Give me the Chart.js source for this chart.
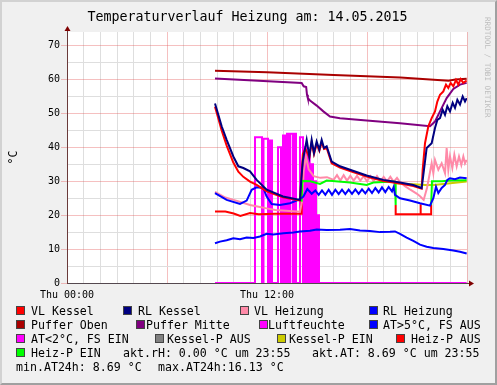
<!DOCTYPE html>
<html>
<head>
<meta charset="utf-8">
<script src="https://cdn.jsdelivr.net/npm/chart.js@4.4.1/dist/chart.umd.min.js"></script>
<style>
  body { margin: 0; background: #f0f0f0; }
  #wrap { position: relative; width: 497px; height: 385px; background: #f0f0f0; font-family: "DejaVu Sans Mono", monospace; overflow: hidden; }
  #chart { position: absolute; left: 0; top: 0; }
  #frame { position: absolute; left: 0; top: 0; width: 497px; height: 385px; box-sizing: border-box;
    border-top: 2px solid #d2d2d2; border-left: 2px solid #d2d2d2; border-right: 2px solid #a0a0a0; border-bottom: 2px solid #a0a0a0; pointer-events: none; }
  #title { position: absolute; left: -1px; top: 9px; width: 497px; text-align: center; font-size: 13.3px; line-height: 16px; color: #000; white-space: pre; }
  #mark { position: absolute; left: 483px; top: 17px; writing-mode: vertical-rl; font-size: 7.6px; line-height: 8px; color: #bdbdbd; white-space: pre; }
  .lg { position: absolute; font-size: 11.6px; line-height: 14px; color: #000; white-space: pre; }
  .box { position: absolute; width: 7px; height: 7px; border: 1px solid #444; }
</style>
</head>
<body>
<div id="wrap">
  <canvas id="chart" width="497" height="385"></canvas>
  <div id="title">Temperaturverlauf Heizung am: 14.05.2015</div>
  <div id="mark">RRDTOOL / TOBI OETIKER</div>
  <div id="legend"></div>
  <div id="frame"></div>
</div>
<script>
// values: [hour of day, value]
const vlKessel = [[8.88,52.0],[9.08,48.5],[9.28,45.0],[9.58,40.5],[9.98,35.5],[10.28,32.8],[10.58,31.3],[10.98,29.9],[11.38,28.9],[11.98,27.0],[12.96,25.3],[13.98,24.3],[14.05,30.0],[14.15,38.0],[14.3,39.5],[14.38,38.8],[14.54,37.0],[14.68,41.5],[14.82,38.0],[14.98,41.0],[15.14,39.0],[15.28,41.5],[15.42,39.5],[15.58,39.8],[15.88,35.3],[16.38,34.0],[16.98,33.0],[17.98,31.4],[18.98,30.1],[19.98,29.3],[20.78,28.6],[21.28,27.8],[21.34,33.4],[21.48,41.2],[21.68,46.2],[21.88,48.6],[22.08,50.6],[22.22,53.5],[22.38,55.5],[22.58,56.5],[22.74,58.5],[22.88,57.5],[23.02,59.0],[23.18,58.0],[23.34,59.9],[23.48,58.5],[23.62,60.1],[23.78,59.0],[23.98,59.7]];
const rlKessel = [[8.88,52.9],[9.08,49.6],[9.28,46.2],[9.58,42.2],[9.98,37.3],[10.28,34.4],[10.58,33.9],[10.98,32.9],[11.38,30.4],[11.98,27.5],[12.96,25.5],[13.98,24.5],[14.05,30.0],[14.15,36.0],[14.38,42.2],[14.54,37.3],[14.68,42.2],[14.82,38.3],[14.98,41.7],[15.14,39.3],[15.28,42.2],[15.42,39.8],[15.58,40.3],[15.88,35.8],[16.38,34.4],[16.98,33.4],[17.98,31.7],[18.98,30.4],[19.98,29.6],[20.78,28.9],[21.28,28.0],[21.42,33.4],[21.58,39.8],[21.88,41.2],[22.08,45.7],[22.22,48.1],[22.38,48.6],[22.54,51.1],[22.68,49.6],[22.82,52.1],[22.98,50.6],[23.14,53.1],[23.28,51.6],[23.42,54.0],[23.58,52.6],[23.74,55.0],[23.88,53.5],[23.98,54.5]];
const vlHeizung = [[8.88,26.9],[9.5,25.2],[10.0,24.5],[10.98,23.0],[11.5,22.5],[11.98,22.0],[12.5,21.5],[13.98,21.0],[14.1,24.0],[14.2,33.0],[14.34,37.3],[14.5,33.5],[14.8,31.5],[15.2,31.0],[15.6,31.2],[16.0,30.4],[16.2,31.8],[16.4,30.2],[16.6,31.8],[16.8,30.2],[17.0,31.6],[17.2,30.2],[17.4,31.6],[17.6,30.2],[17.8,31.5],[18.0,30.0],[18.2,31.5],[18.4,30.0],[18.6,31.5],[18.8,30.0],[19.0,31.3],[19.2,30.0],[19.4,31.3],[19.6,29.8],[19.8,31.0],[20.0,29.6],[20.3,28.5],[20.6,27.5],[21.0,26.3],[21.2,25.5],[21.4,24.5],[21.6,28.0],[21.88,35.3],[21.98,32.4],[22.08,36.3],[22.28,33.4],[22.48,35.3],[22.68,32.4],[22.78,39.8],[22.88,33.4],[22.98,37.3],[23.12,33.9],[23.24,37.8],[23.38,34.4],[23.52,37.3],[23.66,34.8],[23.78,37.3],[23.88,35.3],[23.98,36.3]];
const rlHeizung = [[8.88,26.5],[9.58,24.5],[10.38,23.3],[10.78,24.3],[11.08,27.5],[11.38,28.2],[11.78,28.0],[11.98,25.5],[12.28,23.3],[12.78,23.0],[13.38,23.5],[13.98,24.7],[14.18,25.5],[14.42,27.7],[14.68,26.3],[14.9,27.3],[15.1,26.0],[15.3,27.3],[15.5,26.0],[15.7,27.5],[15.9,26.0],[16.1,27.5],[16.3,26.2],[16.5,27.5],[16.7,26.2],[16.9,27.5],[17.1,26.3],[17.3,27.6],[17.5,26.3],[17.7,27.6],[17.9,26.4],[18.1,27.8],[18.3,26.5],[18.5,28.0],[18.7,26.7],[18.9,28.2],[19.1,26.8],[19.3,28.3],[19.5,27.0],[19.6,28.3],[19.68,26.0],[19.98,25.0],[20.58,24.3],[21.18,23.5],[21.78,22.8],[21.98,25.0],[22.14,28.4],[22.28,26.5],[22.48,28.0],[22.68,28.9],[22.82,30.4],[22.98,30.9],[23.28,30.6],[23.58,31.1],[23.98,30.9]];
const pufferOben = [[8.88,62.6],[12.0,62.1],[16.0,61.3],[20.0,60.6],[22.9,59.6],[23.3,60.0],[23.98,60.2]];
const pufferMitte = [[8.88,60.3],[14.08,59.0],[14.2,58.0],[14.35,57.8],[14.4,55.5],[14.45,54.5],[14.58,53.8],[14.98,52.3],[15.38,50.6],[15.78,49.1],[16.38,48.6],[17.98,47.9],[19.98,47.1],[21.78,46.2],[22.08,47.6],[22.38,50.6],[22.78,54.5],[23.18,57.2],[23.58,58.5],[23.98,59.0]];
const luftfeuchte = [[8.88,0],[11.28,0],[11.28,43],[11.7,43],[11.7,0],[11.79,0],[11.79,42.5],[12.06,42.5],[12.06,0],[12.18,0],[12.18,42],[12.3,42],[12.3,0],[12.66,0],[12.66,40],[12.84,40],[12.84,0],[12.96,0],[12.96,43.5],[13.08,43.5],[13.08,0],[13.2,0],[13.2,44],[13.32,44],[13.32,0],[13.4,0],[13.4,44],[13.56,44],[13.56,0],[13.62,0],[13.62,44],[13.74,44],[13.74,0],[13.98,0],[13.98,43],[14.16,43],[14.16,0],[14.28,0],[14.28,40],[14.36,40],[14.36,0],[14.48,0],[14.48,37.8],[14.56,37.8],[14.56,0],[14.68,0],[14.68,35],[14.76,35],[14.76,0],[14.86,0],[14.86,30],[14.94,30],[14.94,0],[15.04,0],[15.04,20],[15.12,20],[15.12,0],[23.98,0]];
const atUeber5 = [[8.88,11.7],[9.18,12.2],[9.58,12.6],[9.98,13.2],[10.38,12.9],[10.78,13.4],[11.18,13.3],[11.58,13.7],[11.98,14.5],[12.38,14.3],[12.98,14.7],[13.58,14.9],[13.98,15.2],[14.58,15.4],[14.98,15.8],[15.58,15.6],[16.38,15.7],[16.98,15.9],[17.58,15.5],[18.18,15.3],[18.78,15.0],[19.38,15.1],[19.68,15.2],[19.98,14.5],[20.38,13.4],[20.78,12.4],[21.18,11.3],[21.58,10.7],[21.98,10.3],[22.58,10.0],[23.18,9.6],[23.58,9.2],[23.98,8.7]];
const atUnter2 = [];
const kesselPAus = [];
const kesselPEin = [[19.6,29.4],[20.5,29.2],[21.5,28.9],[22.0,28.9],[23.0,29.4],[23.98,29.9]];
const heizPAus = [[8.88,21.1],[9.5,21.1],[10.0,20.5],[10.4,19.8],[10.98,20.6],[11.5,20.3],[12.5,20.4],[14.08,20.4],[14.08,24.0],[14.1,null],[19.72,23.0],[19.72,20.3],[21.18,20.3],[21.18,23.2],[21.24,23.2],[21.24,20.3],[21.85,20.3],[21.85,23.0]];
const heizPEin = [[14.08,24.0],[14.12,30.1],[14.6,30.0],[15.18,29.2],[15.58,30.2],[16.98,29.6],[17.98,28.9],[18.38,29.6],[19.58,29.9],[19.68,29.8],[19.72,23.0],[19.8,null],[21.85,23.0],[21.9,30.0],[22.5,30.0],[23.0,30.2],[23.98,30.3]];

const seriesNames = ["VL Kessel", "RL Kessel", "VL Heizung", "RL Heizung", "Puffer Oben", "Puffer Mitte", "Luftfeuchte", "AT>5°C, FS AUS", "AT<2°C, FS EIN", "Kessel-P AUS", "Kessel-P EIN", "Heiz-P AUS", "Heiz-P EIN"];
const seriesData = [vlKessel, rlKessel, vlHeizung, rlHeizung, pufferOben, pufferMitte, luftfeuchte, atUeber5, atUnter2, kesselPAus, kesselPEin, heizPAus, heizPEin];
const gprintTexts = ["akt.rH: 0.00 °C um 23:55", "akt.AT: 8.69 °C um 23:55", "min.AT24h: 8.69 °C", "max.AT24h:16.13 °C"];
const xTickHours = [0, 12];
const xTickLabels = ["Thu 00:00", "Thu 12:00"];
const yTickLabels = ["0", "10", "20", "30", "40", "50", "60", "70"];

// styles
const seriesColors = ["#ff0000", "#000080", "#ff8aa8", "#0000ff", "#aa0000", "#800080", "#ff00ff", "#0000ff", "#ff00ff", "#808080", "#cccc00", "#ff0000", "#00ff00"];
const drawOrder = [1, 0, 3, 2, 5, 4, 12, 6, 7, 11, 10, 9, 2.5]; // lower = on top
const boxX  = [16, 123, 240, 369, 16, 136, 259, 369, 16, 155, 277, 396, 16];
const textX = [31, 138, 254, 383, 31, 146, 268, 383, 31, 167, 289, 411, 31];
const rowOf = [0, 0, 0, 0, 1, 1, 1, 1, 2, 2, 2, 2, 3];
const gprintPos = [[123, 3], [312, 3], [16, 4], [158, 4]];
const rowTop = 304, rowStep = 14;

const majorGrid = "rgba(230,90,90,0.38)";
const minorGrid = "#dedede";
const axisColor = "#6a3a3a";
const arrowColor = "#7f0000";
const mono = "DejaVu Sans Mono";

// legend as html
const legend = document.getElementById("legend");
seriesNames.forEach((name, i) => {
  const top = rowTop + rowOf[i] * rowStep;
  const b = document.createElement("div");
  b.className = "box";
  b.style.left = boxX[i] + "px";
  b.style.top = (top + 2) + "px";
  b.style.background = seriesColors[i];
  legend.appendChild(b);
  const t = document.createElement("div");
  t.className = "lg";
  t.style.left = textX[i] + "px";
  t.style.top = top + "px";
  t.textContent = name;
  legend.appendChild(t);
});
gprintTexts.forEach((txt, i) => {
  const t = document.createElement("div");
  t.className = "lg";
  t.style.left = gprintPos[i][0] + "px";
  t.style.top = (rowTop + gprintPos[i][1] * rowStep) + "px";
  t.textContent = txt;
  legend.appendChild(t);
});

const frame = {
  id: "frame",
  beforeDraw(chart) {
    const { ctx, chartArea: a } = chart;
    ctx.save();
    ctx.fillStyle = "#ffffff";
    ctx.fillRect(a.left, a.top, a.right - a.left, a.bottom - a.top);
    ctx.restore();
  },
  afterDraw(chart) {
    const { ctx, chartArea: a } = chart;
    ctx.save();
    ctx.strokeStyle = axisColor;
    ctx.lineWidth = 1;
    ctx.beginPath();
    ctx.moveTo(a.left + 0.5, a.top);
    ctx.lineTo(a.left + 0.5, a.top - 3);
    ctx.moveTo(a.right, a.bottom + 0.5);
    ctx.lineTo(a.right + 3, a.bottom + 0.5);
    ctx.stroke();
    ctx.fillStyle = arrowColor;
    ctx.beginPath();
    ctx.moveTo(a.left + 0.5, a.top - 6);
    ctx.lineTo(a.left - 2.5, a.top - 1);
    ctx.lineTo(a.left + 3.5, a.top - 1);
    ctx.closePath();
    ctx.fill();
    ctx.beginPath();
    ctx.moveTo(a.right + 7, a.bottom + 0.5);
    ctx.lineTo(a.right + 2, a.bottom - 2.5);
    ctx.lineTo(a.right + 2, a.bottom + 3.5);
    ctx.closePath();
    ctx.fill();
    ctx.restore();
  }
};

new Chart(document.getElementById("chart"), {
  type: "line",
  data: {
    datasets: seriesNames.map((name, i) => ({
      label: name,
      data: seriesData[i],
      borderColor: seriesColors[i],
      backgroundColor: seriesColors[i],
      borderWidth: 2,
      pointRadius: 0,
      tension: 0,
      fill: false,
      spanGaps: false,
      order: drawOrder[i]
    }))
  },
  options: {
    responsive: false,
    devicePixelRatio: 1,
    animation: false,
    events: [],
    layout: { padding: { left: 0, right: 30, top: 32, bottom: 82 } },
    plugins: { legend: { display: false }, title: { display: false }, tooltip: { enabled: false } },
    scales: {
      x: {
        type: "linear",
        min: 0,
        max: 24,
        afterFit: s => { s.height = 20; },
        ticks: {
          stepSize: 1,
          includeBounds: false,
          autoSkip: false,
          maxRotation: 0,
          padding: 3,
          color: "#000",
          font: { family: mono, size: 10 },
          callback: v => {
            const k = xTickHours.indexOf(v);
            return k >= 0 ? xTickLabels[k] : "";
          }
        },
        grid: {
          color: c => (c.tick && c.tick.value % 6 === 0) ? majorGrid : minorGrid,
          tickLength: 3,
          tickColor: "transparent"
        },
        border: { color: "#54484f", width: 1 }
      },
      y: {
        type: "linear",
        min: 0,
        max: 74,
        afterFit: s => { s.width = 67; },
        ticks: {
          stepSize: 5,
          includeBounds: false,
          autoSkip: false,
          padding: 1,
          color: "#000",
          font: { family: mono, size: 10 },
          callback: v => (v % 10 === 0) ? yTickLabels[v / 10] : ""
        },
        grid: {
          color: c => (c.tick && c.tick.value % 10 === 0) ? majorGrid : minorGrid,
          tickLength: 6,
          tickColor: c => (c.tick && c.tick.value % 10 === 0) ? majorGrid : "transparent"
        },
        border: { color: axisColor, width: 1 },
        title: { display: true, text: "°C", color: "#000", font: { family: mono, size: 11.6 }, padding: { top: 7, bottom: 0 } }
      }
    }
  },
  plugins: [frame]
});
</script>
</body>
</html>
